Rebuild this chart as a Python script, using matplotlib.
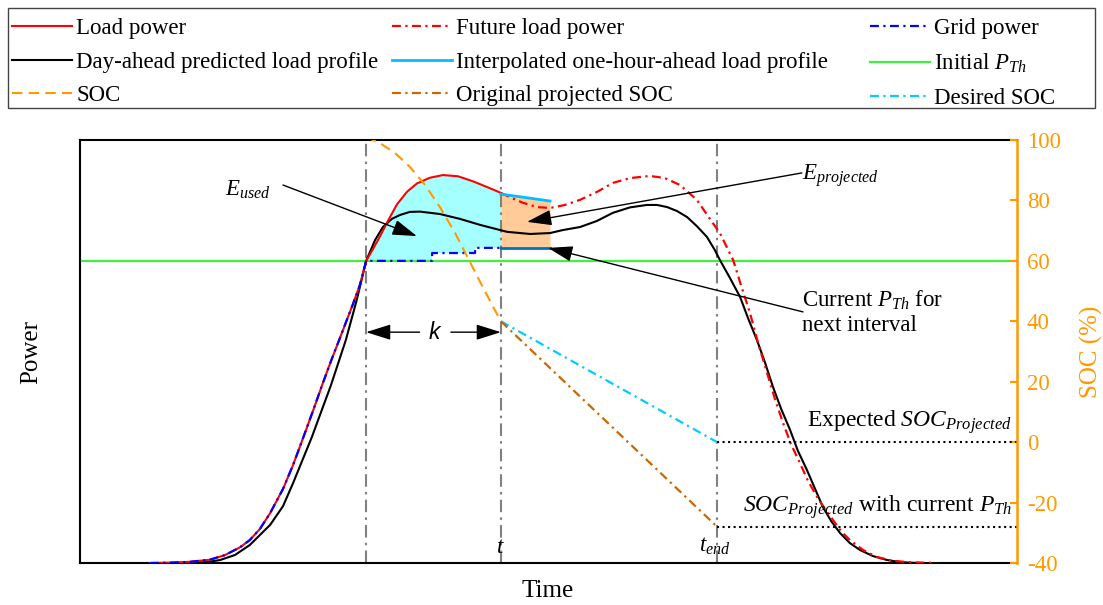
import matplotlib.pyplot as plt
from matplotlib.lines import Line2D
from matplotlib.patches import Rectangle

plt.rcParams['font.family'] = ['Liberation Serif', 'DejaVu Serif']
plt.rcParams['mathtext.fontset'] = 'custom'
plt.rcParams['mathtext.rm'] = 'Liberation Serif'
plt.rcParams['mathtext.it'] = 'Liberation Serif:italic'
plt.rcParams['axes.unicode_minus'] = False

# time markers (h)
t_start = 7.33
t_now = 10.78
t_end = 16.32
t_look = 12.04   # end of the one-hour-ahead window

# measured load power up to now
load_t = [1.79, 2.31, 2.82, 3.33, 3.71, 4.10, 4.35, 4.61, 4.87, 5.20, 5.46, 5.71, 5.97,
          6.22, 6.44, 6.66, 6.84, 6.99, 7.17, 7.33,
          7.50, 7.68, 7.90, 8.12, 8.38, 8.63, 8.96, 9.30, 9.68, 10.07, 10.45, 10.78]
load_p = [0, 0.1, 0.4, 1.1, 2.6, 5.2, 7.6, 11.3, 16.5, 24.5, 32.5, 41.2, 50.4,
          59.5, 67.2, 74.5, 80.6, 85.6, 92.0, 100,
          103.8, 108.0, 113.5, 118.7, 122.9, 125.6, 127.5, 128.4, 128.0, 126.3, 124.3, 122.5]

# future load power
future_t = [10.78, 11.01, 11.35, 11.71, 12.04, 12.42, 12.81, 13.24, 13.65, 14.09, 14.60,
            14.98, 15.37, 15.80, 16.21, 16.39, 16.73, 16.93, 17.16, 17.37, 17.60, 17.80,
            18.01, 18.21, 18.44, 18.65, 18.88, 19.08, 19.29, 19.49, 19.72, 20.06, 20.41,
            20.80, 21.18, 21.90]
future_p = [122.5, 121.1, 119.2, 117.8, 117.5, 118.5, 120.2, 122.8, 125.8, 127.4, 128.1,
            127.4, 125.1, 120.2, 112.5, 109.2, 100.3, 92.0, 82.8, 72.8, 62.9, 54.3,
            46.3, 39.4, 33.1, 27.1, 21.9, 17.9, 14.2, 10.6, 7.6, 4.3, 2.0,
            0.8, 0.3, 0]

# day-ahead predicted load profile
pred_t = [2.05, 2.69, 3.25, 3.59, 3.97, 4.35, 4.87, 5.20, 5.46, 5.94, 6.43, 6.81, 7.09,
          7.33, 7.56, 7.76, 7.99, 8.20, 8.45, 8.71, 9.22, 9.73, 10.25, 10.94, 11.53,
          12.04, 12.37, 12.81, 13.24, 13.65, 14.09, 14.52, 14.78, 15.04, 15.29, 15.55,
          15.80, 16.06, 16.26, 16.39, 16.65, 16.91, 17.11, 17.34, 17.55, 17.75, 17.96,
          18.19, 18.39, 18.62, 18.83, 19.03, 19.24, 19.47, 19.72, 19.98, 20.31, 20.67,
          21.00, 21.44]
pred_p = [0, 0.05, 0.3, 0.99, 2.65, 5.96, 12.6, 18.8, 26.5, 41.7, 58.9, 73.8, 87.1,
          100, 106.9, 111.2, 113.9, 115.2, 116.2, 116.3, 115.5, 113.9, 111.9, 109.6, 108.9,
          109.2, 110.2, 111.2, 113.2, 115.9, 117.7, 118.5, 118.5, 117.8, 116.5, 114.5,
          111.5, 107.9, 103.6, 100.3, 94.3, 88.0, 81.1, 73.8, 66.2, 58.3, 51.0,
          44.0, 37.1, 30.8, 24.5, 18.5, 13.9, 9.9, 6.6, 4.3, 2.3, 1.0,
          0.3, 0]

# grid power (load below threshold, then stepped threshold)
n_rise = load_t.index(t_start) + 1
grid_t = load_t[:n_rise] + [9.02, 9.02, 10.12, 10.12, 10.78]
grid_p = load_p[:n_rise] + [100, 102.6, 102.6, 104.3, 104.3]

# interpolated one-hour-ahead profile
interp_t = [10.78, 12.04]
interp_p = [122.1, 119.8]

# thresholds
pth_initial = 100
pth_current = 104.3

# state of charge (%)
soc_t = [7.33, 7.68, 8.07, 8.45, 8.84, 9.22, 9.61, 9.99, 10.37, 10.78]
soc = [101.0, 99.0, 95.7, 91.1, 85.1, 77.8, 69.2, 59.6, 50.0, 40.0]
desired_soc = [40.0, 0.0]
original_soc = [40.0, -28.0]

orange = '#FF9900'
dashdot = (4, 2, 1, 2)

fig = plt.figure(figsize=(11.03, 6.05), dpi=100)
ax = fig.add_axes([0.0725, 0.0694, 0.8495, 0.6992])
ax2 = ax.twinx()

ax.set_xlim(0, 24)
ax.set_ylim(0, 140)
ax2.set_ylim(-40, 100)

# shaded energies
ax.fill_between(load_t[n_rise - 1:], load_p[n_rise - 1:], pth_initial,
                color='#A6FFFF', lw=0, zorder=1)
ax.fill_between(grid_t[n_rise - 1:], grid_p[n_rise - 1:], pth_initial,
                color='white', lw=0, zorder=1.1)
ax.fill_between(interp_t, interp_p, pth_current, color='#FFCC99', lw=0, zorder=1)

ax.axhline(pth_initial, color='#40F040', lw=1.6, zorder=2)
for tv in (t_start, t_now, t_end):
    ax.axvline(tv, color='#808080', lw=1.5, dashes=(6, 2.5, 1.2, 2.5), zorder=2)

ax.plot(pred_t, pred_p, color='black', lw=1.5, zorder=3)
ax.plot(load_t, load_p, color='red', lw=1.5, zorder=3)
ax.plot(future_t, future_p, color='red', lw=1.6, dashes=dashdot, zorder=3)
ax.plot(grid_t, grid_p, color='blue', lw=1.6, dashes=dashdot, zorder=4)
ax.plot(interp_t, interp_p, color='#00BFFF', lw=2.0, zorder=4)
ax.plot([t_now, t_look], [pth_current, pth_current], color='#0072BD', lw=2.0, zorder=4)

ax2.plot(soc_t, soc, color=orange, lw=1.5, dashes=(5, 3))
ax2.plot([t_now, t_end], desired_soc, color='#00CCFF', lw=1.6, dashes=dashdot)
ax2.plot([t_now, t_end], original_soc, color='#CC6600', lw=1.6, dashes=dashdot)
ax2.plot([t_end, 24], [desired_soc[1], desired_soc[1]], color='black', lw=1.5, ls=':')
ax2.plot([t_end, 24], [original_soc[1], original_soc[1]], color='black', lw=1.5, ls=':')

ax.set_xticks([])
ax.set_yticks([])
for side in ('left', 'top', 'bottom'):
    ax.spines[side].set_linewidth(1.5)
ax.spines['right'].set_visible(False)
for side in ('left', 'top', 'bottom'):
    ax2.spines[side].set_visible(False)
ax2.spines['right'].set_color(orange)
ax2.spines['right'].set_linewidth(1.8)
ax2.set_yticks(range(-40, 101, 20))
ax2.tick_params(axis='y', direction='in', length=5, width=1.5, colors=orange,
                labelsize=16.5, pad=7)

ax.set_xlabel('Time', fontsize=18)
ax.xaxis.set_label_coords(0.4995, -0.04)
ax.set_ylabel('Power', fontsize=18)
ax.yaxis.set_label_coords(-0.040, 0.5)
ax2.set_ylabel('SOC (%)', fontsize=18, color=orange, labelpad=14)

# annotations
arrow = dict(arrowstyle='-|>,head_length=0.95,head_width=0.3', color='black', lw=1,
             mutation_scale=16, shrinkA=0, shrinkB=0)
ax2.text(4.30, 83.5, '$E_{used}$', fontsize=16.5, ha='center', va='center')
ax2.annotate('', xy=(8.63, 68.2), xytext=(5.20, 85.1), arrowprops=arrow)
ax2.text(18.50, 88.1, '$E_{projected}$', fontsize=16.5, ha='left', va='center')
ax2.annotate('', xy=(11.45, 72.9), xytext=(18.49, 89.1), arrowprops=arrow)
ax2.text(18.50, 43.0, 'Current $P_{Th}$ for\nnext interval', fontsize=16.5,
         ha='left', va='center', linespacing=1.15)
ax2.annotate('', xy=(11.99, 64.3), xytext=(18.52, 43.1), arrowprops=arrow)

ax2.text(9.09, 36.2, 'k', fontsize=16.5, style='italic', family='Liberation Sans',
         ha='center', va='center')
ax2.annotate('', xy=(t_start, 36.4), xytext=(8.70, 36.4), arrowprops=arrow)
ax2.annotate('', xy=(t_now, 36.4), xytext=(9.50, 36.4), arrowprops=arrow)

ax2.text(23.87, 5.0, 'Expected $SOC_{Projected}$', fontsize=17, ha='right',
         va='baseline')
ax2.text(23.87, -23.1, '$SOC_{Projected}$ with current $P_{Th}$', fontsize=17,
         ha='right', va='baseline')
ax2.text(t_now, -35.0, '$t$', fontsize=16.5, ha='center', va='center')
ax2.text(t_end - 0.05, -34.5, '$t_{end}$', fontsize=16.5, ha='center', va='center')

# legend: three columns inside one shared frame
legend_cols = [
    ([Line2D([], [], color='red', lw=1.5),
      Line2D([], [], color='black', lw=1.5),
      Line2D([], [], color=orange, lw=1.5, dashes=(5, 3))],
     ['Load power', 'Day-ahead predicted load profile', 'SOC'], 12),
    ([Line2D([], [], color='red', lw=1.6, dashes=dashdot),
      Line2D([], [], color='#00BFFF', lw=2.0),
      Line2D([], [], color='#CC6600', lw=1.6, dashes=dashdot)],
     ['Future load power', 'Interpolated one-hour-ahead load profile',
      'Original projected SOC'], 392),
    ([Line2D([], [], color='blue', lw=1.6, dashes=dashdot),
      Line2D([], [], color='#40F040', lw=1.6),
      Line2D([], [], color='#00CCFF', lw=1.6, dashes=dashdot)],
     ['Grid power', 'Initial $P_{Th}$', 'Desired SOC'], 870),
]
for col_handles, col_labels, x_px in legend_cols:
    fig.legend(col_handles, col_labels, loc='upper left',
               bbox_to_anchor=(x_px / 1103, 1 - 18 / 605), fontsize=16.5,
               frameon=False, handlelength=2.6, handletextpad=0.2,
               labelspacing=0.55, borderpad=0, borderaxespad=0)
fig.add_artist(Rectangle((8 / 1103, 1 - 108 / 605), 1087 / 1103, 100 / 605,
                         transform=fig.transFigure, fill=False,
                         edgecolor='#444444', lw=1.0))

fig.savefig('out.png', dpi=100)
